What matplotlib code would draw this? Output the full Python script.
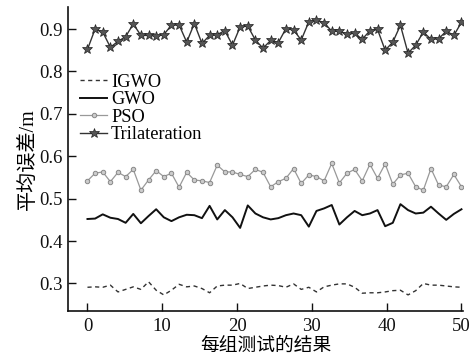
import matplotlib
matplotlib.use("Agg")
import matplotlib.pyplot as plt
import numpy as np

plt.rcParams['font.family'] = ['Liberation Serif', 'Noto Sans CJK SC']
plt.rcParams['axes.unicode_minus'] = False

# 50 test groups spread over 0..50
n_groups = 50
x = np.linspace(0, 50, n_groups)

igwo = [0.291, 0.292, 0.291, 0.296, 0.280, 0.286, 0.292, 0.286, 0.304, 0.284,
        0.273, 0.284, 0.298, 0.292, 0.294, 0.288, 0.278, 0.294, 0.296, 0.296,
        0.300, 0.288, 0.291, 0.294, 0.296, 0.295, 0.291, 0.299, 0.286, 0.291,
        0.280, 0.292, 0.296, 0.299, 0.299, 0.291, 0.277, 0.278, 0.278, 0.280,
        0.283, 0.284, 0.273, 0.283, 0.300, 0.296, 0.296, 0.294, 0.292, 0.291]

gwo = [0.452, 0.453, 0.463, 0.455, 0.452, 0.443, 0.464, 0.442, 0.459, 0.475,
       0.456, 0.447, 0.456, 0.462, 0.461, 0.454, 0.483, 0.451, 0.473, 0.456,
       0.431, 0.484, 0.465, 0.456, 0.451, 0.454, 0.461, 0.465, 0.461, 0.434,
       0.471, 0.477, 0.485, 0.439, 0.456, 0.471, 0.461, 0.465, 0.473, 0.435,
       0.443, 0.487, 0.473, 0.465, 0.467, 0.481, 0.465, 0.450, 0.464, 0.475]

pso = [0.542, 0.560, 0.563, 0.540, 0.562, 0.552, 0.569, 0.520, 0.544, 0.566,
       0.552, 0.560, 0.527, 0.562, 0.544, 0.542, 0.538, 0.579, 0.563, 0.563,
       0.557, 0.552, 0.569, 0.562, 0.528, 0.540, 0.548, 0.571, 0.536, 0.556,
       0.552, 0.542, 0.583, 0.537, 0.560, 0.569, 0.542, 0.581, 0.548, 0.582,
       0.534, 0.556, 0.560, 0.528, 0.520, 0.571, 0.532, 0.528, 0.557, 0.528]

trilat = [0.852, 0.900, 0.893, 0.857, 0.871, 0.882, 0.912, 0.885, 0.885, 0.884,
          0.887, 0.909, 0.910, 0.869, 0.913, 0.866, 0.885, 0.887, 0.896, 0.862,
          0.905, 0.907, 0.874, 0.855, 0.873, 0.868, 0.901, 0.898, 0.874, 0.917,
          0.921, 0.915, 0.895, 0.895, 0.888, 0.890, 0.876, 0.896, 0.899, 0.850,
          0.869, 0.909, 0.843, 0.862, 0.893, 0.876, 0.877, 0.895, 0.885, 0.916]

fig = plt.figure(figsize=(4.75, 3.55), dpi=100)
ax = fig.add_axes([0.1432, 0.1239, 0.8315, 0.8564])

ax.plot(x, igwo, color='#333333', lw=1.0, ls=(0, (3, 2.5)), label='IGWO')
ax.plot(x, gwo, color='#111111', lw=1.4, label='GWO')
ax.plot(x, pso, color='#999999', lw=0.9, marker='o', ms=3.2,
        mfc='#cccccc', mec='#888888', mew=0.7, label='PSO')
ax.plot(x, trilat, color='#333333', lw=1.0, marker='*', ms=7.5,
        mfc='#555555', mec='#222222', mew=0.5, label='Trilateration')

ax.set_xlim(-2.6, 50.2)
ax.set_ylim(0.235, 0.952)
ax.set_xticks([0, 10, 20, 30, 40, 50])
ax.set_yticks([0.3, 0.4, 0.5, 0.6, 0.7, 0.8, 0.9])

for side in ['top', 'right']:
    ax.spines[side].set_visible(False)
for side in ['left', 'bottom']:
    ax.spines[side].set_linewidth(1.2)
    ax.spines[side].set_color('#111111')

ax.tick_params(direction='in', length=6, width=1, labelsize=13.5,
               colors='#111111', pad=5)
ax.tick_params(axis='y', pad=4)

ax.set_ylabel('平均误差/m', fontsize=14.5, labelpad=0,
              family=['Liberation Serif', 'Noto Sans CJK SC'])
ax.set_xlabel('每组测试的结果', fontsize=13.5, labelpad=0,
              family=['Noto Sans CJK SC', 'Liberation Serif'])

ax.legend(loc='upper left', bbox_to_anchor=(0.03, 0.78), frameon=False,
          fontsize=13.2, handlelength=1.5, handletextpad=0.2,
          labelspacing=0.02, borderpad=0, borderaxespad=0)

fig.savefig('out.png', dpi=100)
